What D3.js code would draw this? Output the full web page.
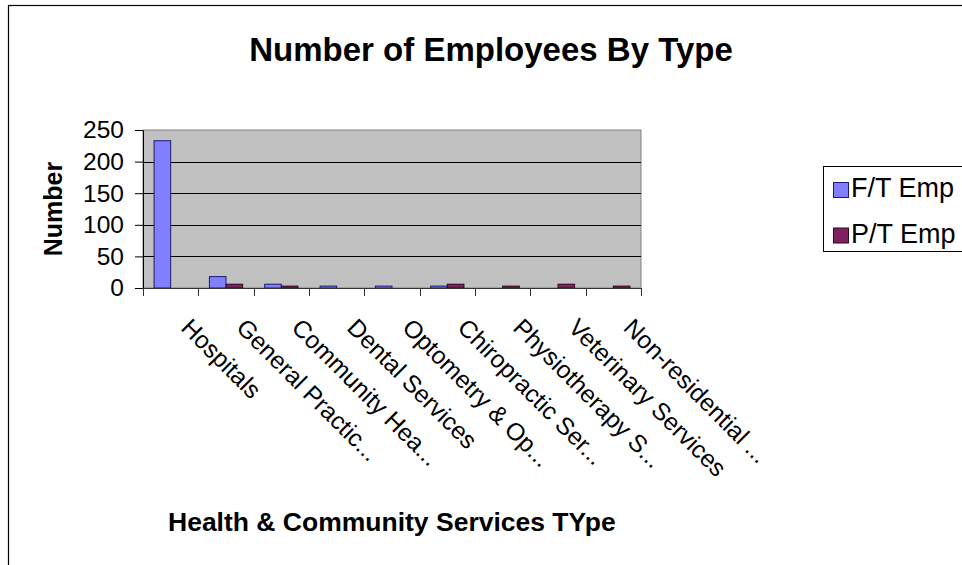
<!DOCTYPE html>
<html>
<head>
<meta charset="utf-8">
<script src="https://cdn.jsdelivr.net/npm/d3@7"></script>
<style>
  html, body { margin: 0; padding: 0; background: #fff; }
  svg { display: block; font-family: "Liberation Sans", Arial, sans-serif; }
</style>
</head>
<body>
<svg id="chart" width="962" height="565"></svg>
<script>
// Categories (labels as displayed, truncated where the axis truncates them)
const categories = [
  "Hospitals",
  "General Practic...",
  "Community Hea...",
  "Dental Services",
  "Optometry & Op...",
  "Chiropractic Ser...",
  "Physiotherapy S...",
  "Veterinary Services",
  "Non-residential ..."
];
const seriesNames = ["F/T Emp", "P/T Emp"];
const fullTime = [233, 18, 6, 3, 3, 3, 0, 0, 0];
const partTime = [0, 6, 3, 0, 0, 6, 3, 6, 3];
const yTicks = [0, 50, 100, 150, 200, 250];

const seriesValues = [fullTime, partTime];
const colors = { "F/T Emp": "#8080FF", "P/T Emp": "#802060" };
const strokes = { "F/T Emp": "#1a1a6e", "P/T Emp": "#2a0a1e" };

const svg = d3.select("#chart");

// Outer chart frame
svg.append("rect")
  .attr("x", 8.5).attr("y", 5.5)
  .attr("width", 1000).attr("height", 600)
  .attr("fill", "#fff").attr("stroke", "#000").attr("stroke-width", 1.2);

const plot = { left: 143, right: 641, top: 130, bottom: 288 };

const x0 = d3.scaleBand()
  .domain(categories)
  .range([plot.left, plot.right])
  .paddingInner(0).paddingOuter(0);

const x1 = d3.scaleBand()
  .domain(seriesNames)
  .range([0, x0.bandwidth()])
  .paddingInner(0).paddingOuter(0.667);

const y = d3.scaleLinear()
  .domain([0, 250])
  .range([plot.bottom, plot.top]);

// Plot background
svg.append("rect")
  .attr("x", plot.left).attr("y", plot.top)
  .attr("width", plot.right - plot.left).attr("height", plot.bottom - plot.top)
  .attr("fill", "#C0C0C0").attr("stroke", "#808080").attr("stroke-width", 1);

// Horizontal gridlines
svg.append("g")
  .selectAll("line")
  .data(yTicks.filter(v => v > 0 && v < 250))
  .join("line")
  .attr("x1", plot.left).attr("x2", plot.right)
  .attr("y1", d => Math.round(y(d)) + 0.5).attr("y2", d => Math.round(y(d)) + 0.5)
  .attr("stroke", "#000").attr("stroke-width", 1);

// Bars
const groups = svg.append("g")
  .selectAll("g")
  .data(categories)
  .join("g")
  .attr("transform", d => `translate(${x0(d)},0)`);

groups.selectAll("rect")
  .data((c, i) => seriesNames.map((s, k) => ({ s, v: seriesValues[k][i] })))
  .join("rect")
  .filter(d => d.v > 0)
  .attr("x", d => x1(d.s))
  .attr("y", d => y(d.v))
  .attr("width", x1.bandwidth())
  .attr("height", d => y(0) - y(d.v))
  .attr("fill", d => colors[d.s])
  .attr("stroke", d => strokes[d.s])
  .attr("stroke-width", 1);

// Y axis
const yAxis = svg.append("g")
  .attr("transform", `translate(${plot.left},0)`)
  .call(d3.axisLeft(y).tickValues(yTicks).tickSize(8).tickSizeOuter(0).tickPadding(11));
yAxis.select(".domain").attr("stroke", "#000");
yAxis.selectAll(".tick line").attr("stroke", "#000");
yAxis.selectAll(".tick text")
  .attr("font-size", 24.5)
  .attr("font-family", "Liberation Sans, Arial, sans-serif")
  .attr("fill", "#000");

// X axis line and boundary ticks
const xAxis = svg.append("g");
xAxis.append("line")
  .attr("x1", plot.left).attr("x2", plot.right)
  .attr("y1", plot.bottom + 0.5).attr("y2", plot.bottom + 0.5)
  .attr("stroke", "#333");
const bounds = categories.map(c => x0(c)).concat([x0.range()[1]]);
xAxis.selectAll("line.tk")
  .data(bounds)
  .join("line")
  .attr("class", "tk")
  .attr("x1", d => Math.round(d) + 0.5).attr("x2", d => Math.round(d) + 0.5)
  .attr("y1", plot.bottom).attr("y2", plot.bottom + 8)
  .attr("stroke", "#333");

// Rotated category labels
xAxis.selectAll("text.cat")
  .data(categories)
  .join("text")
  .attr("class", "cat")
  .attr("transform", d => `translate(${x0(d) + x0.bandwidth() / 2 + 9},329) rotate(45)`)
  .attr("font-size", 24.5)
  .attr("fill", "#000")
  .text(d => d);

// Title
svg.append("text")
  .attr("x", 491).attr("y", 61)
  .attr("text-anchor", "middle")
  .attr("font-size", 33).attr("font-weight", "bold")
  .text("Number of Employees By Type");

// Y axis title
svg.append("text")
  .attr("transform", "translate(62,209) rotate(-90)")
  .attr("text-anchor", "middle")
  .attr("font-size", 25).attr("font-weight", "bold")
  .text("Number");

// X axis title
svg.append("text")
  .attr("x", 168).attr("y", 531)
  .attr("font-size", 26.5).attr("font-weight", "bold")
  .text("Health & Community Services TYpe");

// Legend
const legend = svg.append("g");
legend.append("rect")
  .attr("x", 823.5).attr("y", 166.5)
  .attr("width", 200).attr("height", 85)
  .attr("fill", "#fff").attr("stroke", "#000");
const items = legend.selectAll("g.item")
  .data(seriesNames)
  .join("g")
  .attr("class", "item")
  .attr("transform", (d, i) => `translate(0,${i * 45.5})`);
items.append("rect")
  .attr("x", 833.5).attr("y", 182.5)
  .attr("width", 15).attr("height", 15)
  .attr("fill", d => colors[d]).attr("stroke", d => strokes[d]);
items.append("text")
  .attr("x", 851).attr("y", 197)
  .attr("font-size", 27)
  .text(d => d);
</script>
</body>
</html>
